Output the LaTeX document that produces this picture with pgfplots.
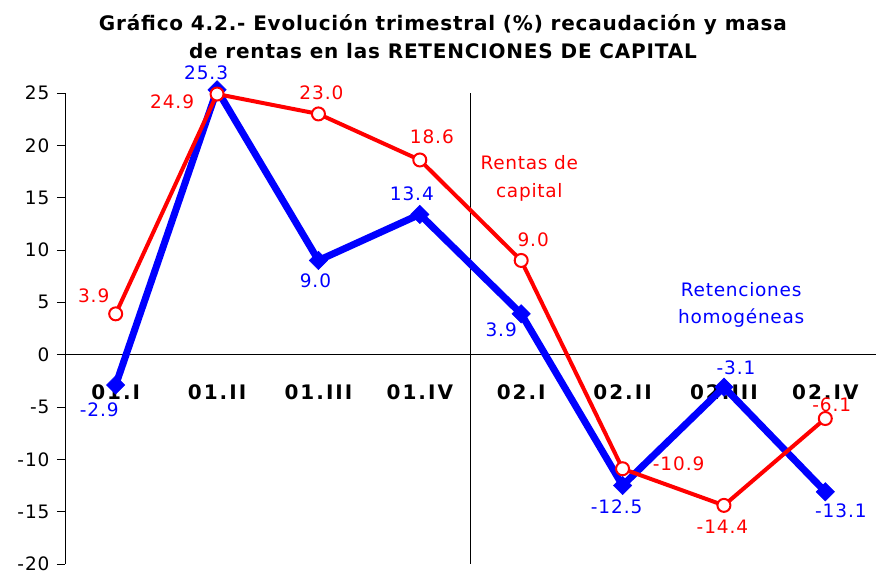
\documentclass[border=0pt]{standalone}
\usepackage{fontspec}
\setmainfont{DejaVu Sans}
\usepackage{pgfplots}
\usepackage{pgfplotstable}
\pgfplotsset{compat=1.18}
\definecolor{myred}{RGB}{255,0,0}
\definecolor{myblue}{RGB}{0,0,255}

\pgfplotstableread{
x y dx dy
0 3.9 -22 18
1 24.9 -45 -8
2 23.0 3 21
3 18.6 12 23
4 9.0 12 21
5 -10.9 56 5
6 -14.4 -1.5 -21
7 -6.1 6.5 14
}\rentas

\pgfplotstableread{
x y dx dy
0 -2.9 -16.5 -25
1 25.3 -11 17
2 9.0 -3 -20
3 13.4 -8 21
4 3.9 -20 -16
5 -12.5 -6 -21
6 -3.1 12 19
7 -13.1 15.5 -19
}\reten

\newcommand{\lblfont}{\fontsize{18.5}{18.5}\selectfont\addfontfeatures{LetterSpace=5}}
\begin{document}
\begin{tikzpicture}
\begin{axis}[
  scale only axis, width=811pt, height=471pt,
  xmin=-0.5, xmax=7.5, ymin=-20, ymax=25,
  axis y line=left, axis x line=middle,
  axis line style={-, black, line width=0.8pt},
  hide obscured x ticks=false, hide obscured y ticks=false,
  xtick={0,1,2,3,4,5,6,7},
  xticklabels={01.I,01.II,01.III,01.IV,02.I,02.II,02.III,02.IV},
  x tick style={draw=none},
  ytick={-20,-15,...,25},
  y tick style={black, line width=0.8pt},
  tick align=outside, major tick length=8pt,
  /pgf/number format/assume math mode=true,
  yticklabel style={font=\lblfont, xshift=-4pt},
  xticklabel style={font=\bfseries\fontsize{20}{20}\selectfont\addfontfeatures{LetterSpace=10}, anchor=center, yshift=-30pt},
  clip=false,
]
\coordinate (SW) at (rel axis cs:0,0);
\coordinate (NE) at (rel axis cs:1,1);
\draw[black, line width=0.8pt] (axis cs:3.5,-20) -- (axis cs:3.5,25);

\addplot[myblue, line width=7pt, mark=square*, mark size=6.5pt,
  mark options={line width=0.5pt, solid, rotate=45},
  visualization depends on={\thisrow{dx} \as \dx},
  visualization depends on={\thisrow{dy} \as \dy},
  nodes near coords={\pgfmathprintnumber[fixed,fixed zerofill,precision=1,assume math mode=true]{\pgfplotspointmeta}},
  nodes near coords style={anchor=center, xshift=\dx pt, yshift=\dy pt, text=myblue, font=\lblfont}
] table[x=x, y=y, meta=y] {\reten};

\addplot[myred, line width=4pt, mark=*, mark size=6.5pt,
  mark options={fill=white, line width=2pt, solid},
  visualization depends on={\thisrow{dx} \as \dx},
  visualization depends on={\thisrow{dy} \as \dy},
  nodes near coords={\pgfmathprintnumber[fixed,fixed zerofill,precision=1,assume math mode=true]{\pgfplotspointmeta}},
  nodes near coords style={anchor=center, xshift=\dx pt, yshift=\dy pt, text=myred, font=\lblfont}
] table[x=x, y=y, meta=y] {\rentas};

\node[text=myred, align=center, font=\fontsize{18.5}{28}\selectfont\addfontfeatures{LetterSpace=4}] at (axis cs:4.08,16.87) {Rentas de\\capital};
\node[text=myblue, align=center, font=\fontsize{18.5}{27}\selectfont\addfontfeatures{LetterSpace=4}] at (axis cs:6.17,4.74) {Retenciones\\homogéneas};
\node[align=center, font=\bfseries\fontsize{20}{28}\selectfont\addfontfeatures{LetterSpace=4}, yshift=56pt] at (rel axis cs:0.466,1) {Gráfico 4.2.- Evolución trimestral (\%) recaudación y masa\\de rentas en las RETENCIONES DE CAPITAL};
\end{axis}
\pgfresetboundingbox
\path ([shift={(-65pt,-8pt)}]SW) rectangle ([shift={(0pt,93pt)}]NE);
\end{tikzpicture}
\end{document}
